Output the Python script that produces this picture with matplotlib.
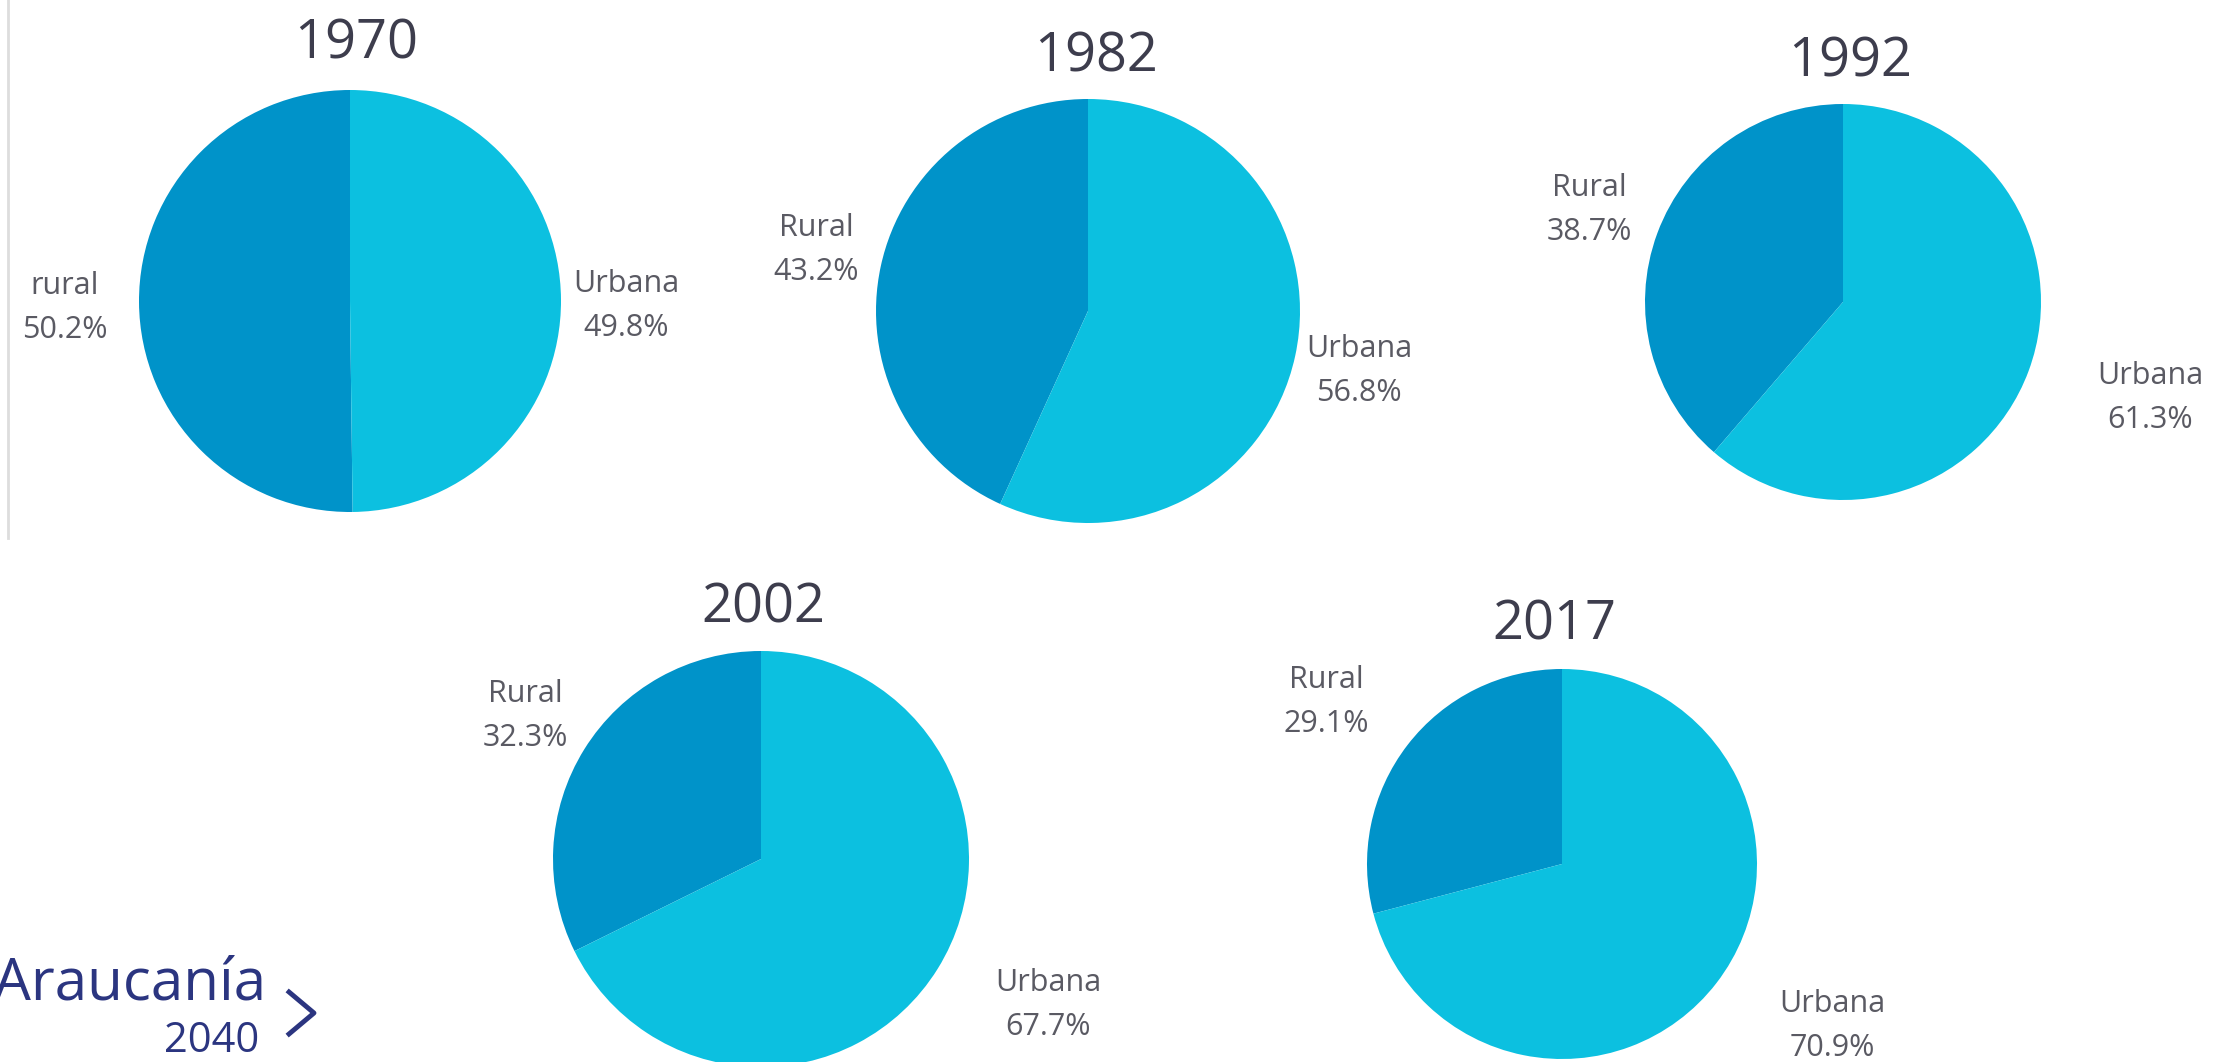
import numpy as np
import matplotlib
matplotlib.use("Agg")
from matplotlib import pyplot as plt
from matplotlib.lines import Line2D

# datos: población rural / urbana por censo
years = ["1970", "1982", "1992", "2002", "2017"]
rural = [50.2, 43.2, 38.7, 32.3, 29.1]
urbana = [49.8, 56.8, 61.3, 67.7, 70.9]
rural_names = ["rural", "Rural", "Rural", "Rural", "Rural"]
urbana_names = ["Urbana", "Urbana", "Urbana", "Urbana", "Urbana"]

W, H = 2215, 1062
plt.rcParams['font.family'] = ['Open Sans', 'DejaVu Sans']

dark = '#0093c9'
light = '#0cc0e0'
txt = '#5a5a63'
title_c = '#3d3d4d'

# posiciones en pixeles (centro x, centro y, radio)
pies = [(350, 301, 211), (1088, 311, 212), (1843, 302, 198), (761, 859, 208), (1562, 864, 195)]
title_pos = [(356, 44), (1096, 57), (1850, 62), (763, 608), (1554, 625)]
rural_pos = [(65, 308), (816, 250), (1589, 210), (525, 716), (1326, 702)]
urb_pos = [(626, 306), (1359, 371), (2150, 398), (1048, 1005), (1832, 1026)]

fig = plt.figure(figsize=(W / 100, H / 100), dpi=100)
fig.patch.set_facecolor('white')

def fx(x):
    return x / W

def fy(y):
    return 1 - y / H

for i in range(len(years)):
    cx, cy, r = pies[i]
    ax = fig.add_axes([fx(cx - r), fy(cy + r), 2 * r / W, 2 * r / H])
    ax.pie([rural[i], urbana[i]], colors=[dark, light], startangle=90,
           counterclock=True, radius=1, wedgeprops={'linewidth': 0})
    ax.set_xlim(-1, 1)
    ax.set_ylim(-1, 1)
    ax.axis('off')

    fig.text(fx(title_pos[i][0]), fy(title_pos[i][1]), years[i], fontsize=39,
             color=title_c, ha='center', va='center')
    fig.text(fx(rural_pos[i][0]), fy(rural_pos[i][1]),
             "%s\n%.1f%%" % (rural_names[i], rural[i]), fontsize=22,
             color=txt, ha='center', va='center', linespacing=1.65)
    fig.text(fx(urb_pos[i][0]), fy(urb_pos[i][1]),
             "%s\n%.1f%%" % (urbana_names[i], urbana[i]), fontsize=22,
             color=txt, ha='center', va='center', linespacing=1.65)

# linea gris del recuadro
fig.add_artist(Line2D([fx(8), fx(8)], [fy(0), fy(538)], color='#dddddd', lw=2))

# logo
navy = '#2b3580'
fig.text(fx(-6), fy(1000), "Araucanía", fontsize=42, color=navy, ha='left', va='baseline')
fig.text(fx(212), fy(1052), "2040", fontsize=30, color=navy, ha='center', va='baseline')
fig.add_artist(Line2D([fx(289), fx(314), fx(289)], [fy(992), fy(1013), fy(1034)],
                      color=navy, lw=3.5))

fig.savefig('out.png', dpi=100, facecolor='white')
